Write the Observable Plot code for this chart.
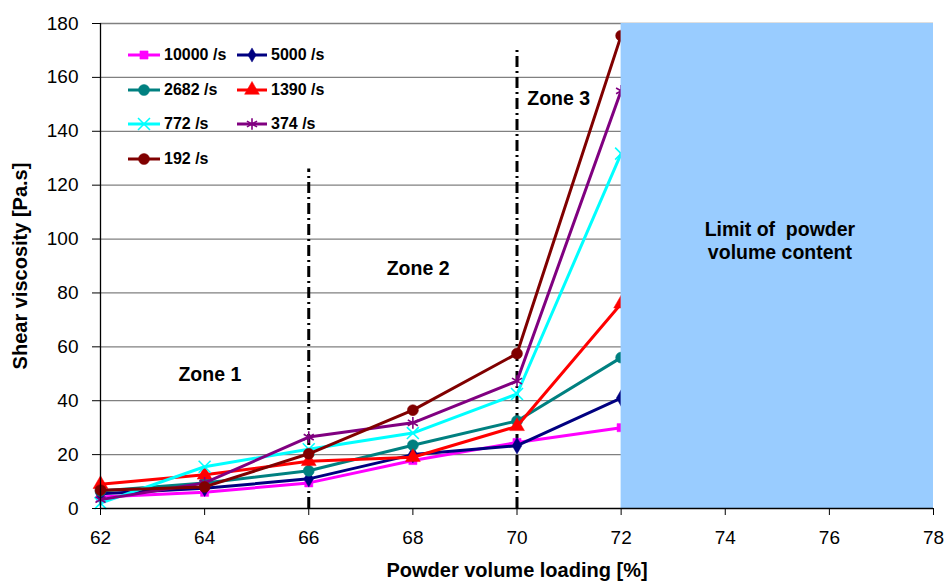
<!DOCTYPE html>
<html>
<head>
<meta charset="utf-8">
<script src="https://cdn.jsdelivr.net/npm/d3@7"></script>
<script src="https://cdn.jsdelivr.net/npm/@observablehq/plot@0.6"></script>
<style>
  html, body { margin: 0; padding: 0; background: #fff; }
  #wrap { position: relative; width: 944px; height: 581px; font-family: "Liberation Sans", Arial, sans-serif; }
  .leg { position: absolute; display: flex; align-items: center; font-weight: bold; font-size: 16px; color: #000; white-space: nowrap; }
  .leg svg { margin-right: 4px; }
</style>
</head>
<body>
<div id="wrap"></div>
<script>
// ---- data ----
const xValues = [62, 64, 66, 68, 70, 72];
const v10000 = [4.3, 6.0, 9.5, 17.8, 24.5, 30.0];
const v5000  = [5.5, 7.5, 11.0, 20.0, 23.3, 41.0];
const v2682  = [6.5, 9.5, 14.0, 23.5, 32.5, 56.0];
const v1390  = [9.0, 12.5, 17.5, 19.0, 30.5, 76.0];
const v772   = [2.0, 15.5, 22.0, 28.0, 42.5, 131.7];
const v374   = [3.3, 9.5, 26.5, 31.8, 47.3, 155.0];
const v192   = [6.8, 8.0, 20.3, 36.5, 57.5, 175.5];

const seriesNames   = ["10000 /s", "5000 /s", "2682 /s", "1390 /s", "772 /s", "374 /s", "192 /s"];
const seriesValues  = [v10000, v5000, v2682, v1390, v772, v374, v192];
const seriesColors  = ["#FF00FF", "#000080", "#008080", "#FF0000", "#00FFFF", "#800080", "#800000"];
const seriesSymbols = ["square", "diamond", "circle", "triangle", "times", "asterisk", "circle"];

const xTicks = [62, 64, 66, 68, 70, 72, 74, 76, 78];
const yTicks = [0, 20, 40, 60, 80, 100, 120, 140, 160, 180];

// zone divider lines: x, top value
const zoneLineX   = [66, 70];
const zoneLineTop = [126, 171];

// zone labels
const zoneLabels = ["Zone 1", "Zone 2", "Zone 3"];
const zoneLabelX = [64.1, 68.1, 70.8];
const zoneLabelY = [49.7, 89, 152];

// limit region
const limitX1 = 72, limitX2 = 78, limitY1 = 0, limitY2 = 180;
const limitText = "Limit of  powder\nvolume content";
const limitTextX = 75.05, limitTextY = 99.5;

const xLabel = "Powder volume loading [%]";
const yLabel = "Shear viscosity [Pa.s]";

// ---- build ----
const symR = {square: 4.6, diamond: 5, circle: 5.5, triangle: 5.5, times: 5.5, asterisk: 5.5};
const marks = [];
marks.push(Plot.ruleY(yTicks.filter(d => d > 0), {x1: 62, x2: 78, stroke: "#808080", strokeWidth: 1.3}));
zoneLineX.forEach((x, i) => {
  marks.push(Plot.ruleX([x], {y1: 0, y2: zoneLineTop[i], stroke: "#000", strokeWidth: 3, strokeDasharray: "11,4,2,4"}));
});
seriesValues.forEach((vals, i) => {
  const data = xValues.map((x, j) => ({x, y: vals[j]}));
  marks.push(Plot.line(data, {x: "x", y: "y", stroke: seriesColors[i], strokeWidth: 3}));
  const sym = seriesSymbols[i];
  const stroked = sym === "times" || sym === "asterisk";
  marks.push(Plot.dot(data, {
    x: "x", y: "y", symbol: () => sym,
    r: symR[sym],
    fill: stroked ? "none" : seriesColors[i],
    stroke: seriesColors[i],
    strokeWidth: stroked ? 1.6 : 0.5
  }));
});
marks.push(Plot.rect([{x1: limitX1, x2: limitX2, y1: limitY1, y2: limitY2}], {x1: "x1", x2: "x2", y1: "y1", y2: "y2", fill: "#99CCFF"}));
marks.push(Plot.text([limitText], {x: limitTextX, y: limitTextY, text: d => d, fontWeight: "bold", fontSize: 19.5, lineHeight: 1.17, fill: "#000"}));
marks.push(Plot.text(zoneLabels, {x: (d, i) => zoneLabelX[i], y: (d, i) => zoneLabelY[i], text: d => d, fontWeight: "bold", fontSize: 19.5, fill: "#000"}));
marks.push(Plot.ruleY([0], {x1: 62, x2: 78, stroke: "#000", strokeWidth: 1.3}));
marks.push(Plot.ruleX([62], {y1: 0, y2: 180, stroke: "#000", strokeWidth: 1.3}));
marks.push(Plot.axisX({ticks: xTicks, tickSize: 7, tickPadding: 15, label: null, fontSize: 19, stroke: "#000"}));
marks.push(Plot.axisY({ticks: yTicks, tickSize: 8, tickPadding: 14, label: null, fontSize: 19, stroke: "#000"}));
marks.push(Plot.text([xLabel], {frameAnchor: "bottom", lineAnchor: "middle", textAnchor: "middle", dy: 62, text: d => d, fontWeight: "bold", fontSize: 20}));
marks.push(Plot.text([yLabel], {frameAnchor: "left", textAnchor: "middle", lineAnchor: "middle", dx: -80, rotate: -90, text: d => d, fontWeight: "bold", fontSize: 20}));

const chart = Plot.plot({
  width: 944,
  height: 581,
  marginLeft: 100,
  marginRight: 11,
  marginTop: 23,
  marginBottom: 73,
  x: {domain: [62, 78]},
  y: {domain: [0, 180]},
  style: {fontFamily: "Liberation Sans, Arial, sans-serif", fontSize: "19px", color: "#000", background: "#fff", overflow: "visible"},
  marks
});
const wrap = document.getElementById("wrap");
wrap.appendChild(chart);

// ---- legend (HTML overlay) ----
const symMap = {square: d3.symbolSquare, diamond: d3.symbolDiamond, circle: d3.symbolCircle, triangle: d3.symbolTriangle, times: d3.symbolTimes, asterisk: d3.symbolAsterisk};
seriesNames.forEach((name, i) => {
  const row = Math.floor(i / 2), col = i % 2;
  const item = document.createElement("div");
  item.className = "leg";
  item.style.left = (128 + col * 109) + "px";
  item.style.top = (55 + row * 34.7 - 10) + "px";
  item.style.height = "20px";
  const w = col === 0 ? 32 : 30;
  const sym = seriesSymbols[i];
  const stroked = sym === "times" || sym === "asterisk";
  const r = sym === "diamond" ? 4.3 : symR[sym];
  const path = d3.symbol().type(symMap[sym]).size(Math.PI * r * r)();
  item.innerHTML =
    `<svg width="${w}" height="20"><line x1="0" x2="${w}" y1="10" y2="10" stroke="${seriesColors[i]}" stroke-width="3"/>` +
    `<path transform="translate(${w / 2},10)" d="${path}" fill="${stroked ? "none" : seriesColors[i]}" stroke="${seriesColors[i]}" stroke-width="${stroked ? 1.6 : 0.5}"/></svg>` +
    `<span>${name}</span>`;
  wrap.appendChild(item);
});
</script>
</body>
</html>
